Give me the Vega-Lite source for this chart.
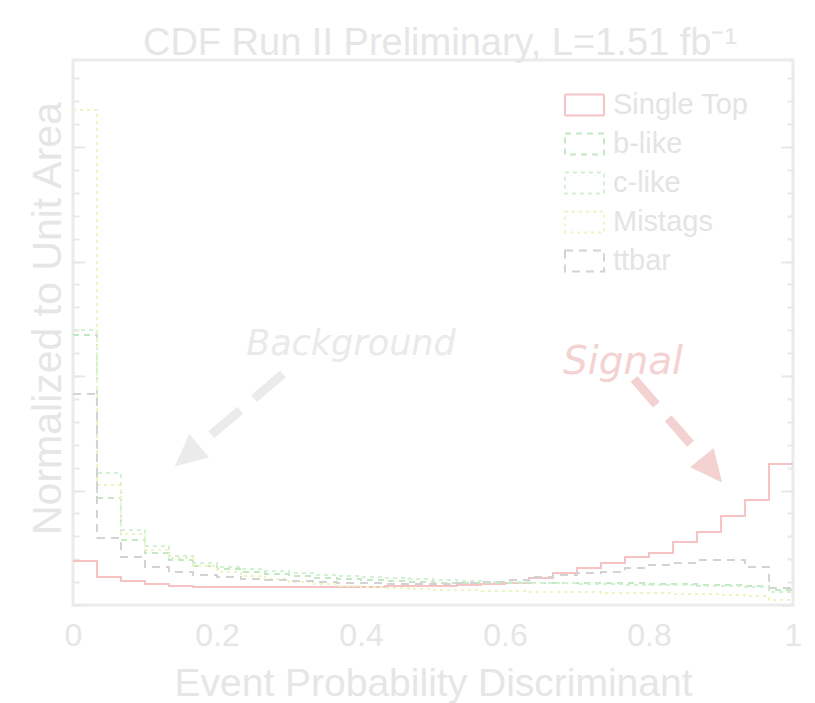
{
  "$schema": "https://vega.github.io/schema/vega-lite/v6.json",
  "width": 720,
  "height": 545,
  "autosize": {"type": "none"},
  "padding": {"left": 73, "top": 60, "right": 22, "bottom": 98},
  "background": "white",
  "title": {
    "text": "CDF Run II Preliminary, L=1.51 fb⁻¹",
    "font": "Liberation Sans",
    "fontSize": 38,
    "fontWeight": "normal",
    "color": "#e6e6e6",
    "anchor": "middle",
    "baseline": "alphabetic",
    "offset": 5,
    "dx": 7,
    "dy": 38
  },
  "datasets": {
    "hist": [
      {"s": "Single Top", "x": 0, "v": 0.0384}, {"s": "Single Top", "x": 0.0333, "v": 0.0245}, {"s": "Single Top", "x": 0.0667, "v": 0.0210}, {"s": "Single Top", "x": 0.1, "v": 0.0183}, {"s": "Single Top", "x": 0.1333, "v": 0.0166}, {"s": "Single Top", "x": 0.1667, "v": 0.0157}, {"s": "Single Top", "x": 0.2, "v": 0.0157}, {"s": "Single Top", "x": 0.2333, "v": 0.0157}, {"s": "Single Top", "x": 0.2667, "v": 0.0157}, {"s": "Single Top", "x": 0.3, "v": 0.0157}, {"s": "Single Top", "x": 0.3333, "v": 0.0157}, {"s": "Single Top", "x": 0.3667, "v": 0.0157}, {"s": "Single Top", "x": 0.4, "v": 0.0157}, {"s": "Single Top", "x": 0.4333, "v": 0.0166}, {"s": "Single Top", "x": 0.4667, "v": 0.0166}, {"s": "Single Top", "x": 0.5, "v": 0.0166}, {"s": "Single Top", "x": 0.5333, "v": 0.0175}, {"s": "Single Top", "x": 0.5667, "v": 0.0183}, {"s": "Single Top", "x": 0.6, "v": 0.0192}, {"s": "Single Top", "x": 0.6333, "v": 0.0236}, {"s": "Single Top", "x": 0.6667, "v": 0.0279}, {"s": "Single Top", "x": 0.7, "v": 0.0323}, {"s": "Single Top", "x": 0.7333, "v": 0.0367}, {"s": "Single Top", "x": 0.7667, "v": 0.0419}, {"s": "Single Top", "x": 0.8, "v": 0.0454}, {"s": "Single Top", "x": 0.8333, "v": 0.0550}, {"s": "Single Top", "x": 0.8667, "v": 0.0638}, {"s": "Single Top", "x": 0.9, "v": 0.0777}, {"s": "Single Top", "x": 0.9333, "v": 0.0917}, {"s": "Single Top", "x": 0.9667, "v": 0.1231}, {"s": "Single Top", "x": 1, "v": 0.1231},

      {"s": "b-like", "x": 0, "v": 0.2358}, {"s": "b-like", "x": 0.0333, "v": 0.0934}, {"s": "b-like", "x": 0.0667, "v": 0.0568}, {"s": "b-like", "x": 0.1, "v": 0.0454}, {"s": "b-like", "x": 0.1333, "v": 0.0393}, {"s": "b-like", "x": 0.1667, "v": 0.0341}, {"s": "b-like", "x": 0.2, "v": 0.0314}, {"s": "b-like", "x": 0.2333, "v": 0.0288}, {"s": "b-like", "x": 0.2667, "v": 0.0271}, {"s": "b-like", "x": 0.3, "v": 0.0253}, {"s": "b-like", "x": 0.3333, "v": 0.0236}, {"s": "b-like", "x": 0.3667, "v": 0.0227}, {"s": "b-like", "x": 0.4, "v": 0.0218}, {"s": "b-like", "x": 0.4333, "v": 0.0210}, {"s": "b-like", "x": 0.4667, "v": 0.0201}, {"s": "b-like", "x": 0.5, "v": 0.0192}, {"s": "b-like", "x": 0.5333, "v": 0.0192}, {"s": "b-like", "x": 0.5667, "v": 0.0192}, {"s": "b-like", "x": 0.6, "v": 0.0192}, {"s": "b-like", "x": 0.6333, "v": 0.0192}, {"s": "b-like", "x": 0.6667, "v": 0.0192}, {"s": "b-like", "x": 0.7, "v": 0.0192}, {"s": "b-like", "x": 0.7333, "v": 0.0192}, {"s": "b-like", "x": 0.7667, "v": 0.0192}, {"s": "b-like", "x": 0.8, "v": 0.0183}, {"s": "b-like", "x": 0.8333, "v": 0.0183}, {"s": "b-like", "x": 0.8667, "v": 0.0175}, {"s": "b-like", "x": 0.9, "v": 0.0175}, {"s": "b-like", "x": 0.9333, "v": 0.0166}, {"s": "b-like", "x": 0.9667, "v": 0.0131}, {"s": "b-like", "x": 1, "v": 0.0131},

      {"s": "c-like", "x": 0, "v": 0.2402}, {"s": "c-like", "x": 0.0333, "v": 0.1153}, {"s": "c-like", "x": 0.0667, "v": 0.0655}, {"s": "c-like", "x": 0.1, "v": 0.0515}, {"s": "c-like", "x": 0.1333, "v": 0.0428}, {"s": "c-like", "x": 0.1667, "v": 0.0367}, {"s": "c-like", "x": 0.2, "v": 0.0332}, {"s": "c-like", "x": 0.2333, "v": 0.0314}, {"s": "c-like", "x": 0.2667, "v": 0.0297}, {"s": "c-like", "x": 0.3, "v": 0.0279}, {"s": "c-like", "x": 0.3333, "v": 0.0262}, {"s": "c-like", "x": 0.3667, "v": 0.0253}, {"s": "c-like", "x": 0.4, "v": 0.0245}, {"s": "c-like", "x": 0.4333, "v": 0.0236}, {"s": "c-like", "x": 0.4667, "v": 0.0227}, {"s": "c-like", "x": 0.5, "v": 0.0218}, {"s": "c-like", "x": 0.5333, "v": 0.0210}, {"s": "c-like", "x": 0.5667, "v": 0.0201}, {"s": "c-like", "x": 0.6, "v": 0.0201}, {"s": "c-like", "x": 0.6333, "v": 0.0192}, {"s": "c-like", "x": 0.6667, "v": 0.0192}, {"s": "c-like", "x": 0.7, "v": 0.0183}, {"s": "c-like", "x": 0.7333, "v": 0.0183}, {"s": "c-like", "x": 0.7667, "v": 0.0175}, {"s": "c-like", "x": 0.8, "v": 0.0175}, {"s": "c-like", "x": 0.8333, "v": 0.0175}, {"s": "c-like", "x": 0.8667, "v": 0.0166}, {"s": "c-like", "x": 0.9, "v": 0.0166}, {"s": "c-like", "x": 0.9333, "v": 0.0157}, {"s": "c-like", "x": 0.9667, "v": 0.0114}, {"s": "c-like", "x": 1, "v": 0.0114},

      {"s": "Mistags", "x": 0, "v": 0.4323}, {"s": "Mistags", "x": 0.0333, "v": 0.1048}, {"s": "Mistags", "x": 0.0667, "v": 0.0620}, {"s": "Mistags", "x": 0.1, "v": 0.0480}, {"s": "Mistags", "x": 0.1333, "v": 0.0410}, {"s": "Mistags", "x": 0.1667, "v": 0.0341}, {"s": "Mistags", "x": 0.2, "v": 0.0288}, {"s": "Mistags", "x": 0.2333, "v": 0.0253}, {"s": "Mistags", "x": 0.2667, "v": 0.0227}, {"s": "Mistags", "x": 0.3, "v": 0.0201}, {"s": "Mistags", "x": 0.3333, "v": 0.0183}, {"s": "Mistags", "x": 0.3667, "v": 0.0166}, {"s": "Mistags", "x": 0.4, "v": 0.0157}, {"s": "Mistags", "x": 0.4333, "v": 0.0148}, {"s": "Mistags", "x": 0.4667, "v": 0.0140}, {"s": "Mistags", "x": 0.5, "v": 0.0131}, {"s": "Mistags", "x": 0.5333, "v": 0.0131}, {"s": "Mistags", "x": 0.5667, "v": 0.0122}, {"s": "Mistags", "x": 0.6, "v": 0.0122}, {"s": "Mistags", "x": 0.6333, "v": 0.0114}, {"s": "Mistags", "x": 0.6667, "v": 0.0114}, {"s": "Mistags", "x": 0.7, "v": 0.0114}, {"s": "Mistags", "x": 0.7333, "v": 0.0105}, {"s": "Mistags", "x": 0.7667, "v": 0.0105}, {"s": "Mistags", "x": 0.8, "v": 0.0105}, {"s": "Mistags", "x": 0.8333, "v": 0.0096}, {"s": "Mistags", "x": 0.8667, "v": 0.0096}, {"s": "Mistags", "x": 0.9, "v": 0.0087}, {"s": "Mistags", "x": 0.9333, "v": 0.0079}, {"s": "Mistags", "x": 0.9667, "v": 0.0044}, {"s": "Mistags", "x": 1, "v": 0.0044},

      {"s": "ttbar", "x": 0, "v": 0.1843}, {"s": "ttbar", "x": 0.0333, "v": 0.0585}, {"s": "ttbar", "x": 0.0667, "v": 0.0419}, {"s": "ttbar", "x": 0.1, "v": 0.0332}, {"s": "ttbar", "x": 0.1333, "v": 0.0288}, {"s": "ttbar", "x": 0.1667, "v": 0.0262}, {"s": "ttbar", "x": 0.2, "v": 0.0245}, {"s": "ttbar", "x": 0.2333, "v": 0.0227}, {"s": "ttbar", "x": 0.2667, "v": 0.0218}, {"s": "ttbar", "x": 0.3, "v": 0.0210}, {"s": "ttbar", "x": 0.3333, "v": 0.0201}, {"s": "ttbar", "x": 0.3667, "v": 0.0192}, {"s": "ttbar", "x": 0.4, "v": 0.0192}, {"s": "ttbar", "x": 0.4333, "v": 0.0183}, {"s": "ttbar", "x": 0.4667, "v": 0.0183}, {"s": "ttbar", "x": 0.5, "v": 0.0183}, {"s": "ttbar", "x": 0.5333, "v": 0.0192}, {"s": "ttbar", "x": 0.5667, "v": 0.0201}, {"s": "ttbar", "x": 0.6, "v": 0.0218}, {"s": "ttbar", "x": 0.6333, "v": 0.0245}, {"s": "ttbar", "x": 0.6667, "v": 0.0262}, {"s": "ttbar", "x": 0.7, "v": 0.0279}, {"s": "ttbar", "x": 0.7333, "v": 0.0288}, {"s": "ttbar", "x": 0.7667, "v": 0.0323}, {"s": "ttbar", "x": 0.8, "v": 0.0349}, {"s": "ttbar", "x": 0.8333, "v": 0.0367}, {"s": "ttbar", "x": 0.8667, "v": 0.0393}, {"s": "ttbar", "x": 0.9, "v": 0.0393}, {"s": "ttbar", "x": 0.9333, "v": 0.0332}, {"s": "ttbar", "x": 0.9667, "v": 0.0148}, {"s": "ttbar", "x": 1, "v": 0.0148}
    ],
    "arrows": [
      {"k": "Background", "x": 0.2917, "y": 0.2017, "x2": 0.175, "y2": 0.1397, "hx": 0.1583, "hy": 0.1301},
      {"k": "Signal", "x": 0.7792, "y": 0.1974, "x2": 0.8736, "y2": 0.1293, "hx": 0.8875, "hy": 0.1179}
    ],
    "notes": [
      {"k": "Background", "x": 0.386, "y": 0.2183},
      {"k": "Signal", "x": 0.7639, "y": 0.2018}
    ]
  },
  "resolve": {"axis": {"y": "independent"}},
  "layer": [
    {
      "data": {"name": "hist"},
      "mark": {"type": "line", "interpolate": "step-after", "strokeWidth": 2, "clip": true},
      "encoding": {
        "x": {
          "field": "x", "type": "quantitative",
          "scale": {"domain": [0, 1], "nice": false, "zero": false},
          "axis": {
            "title": "Event Probability Discriminant",
            "values": [0, 0.2, 0.4, 0.6, 0.8, 1],
            "labelExpr": "datum.value == 0 ? '0' : datum.value == 1 ? '1' : format(datum.value, '.1f')"
          }
        },
        "y": {
          "field": "v", "type": "quantitative",
          "scale": {"domain": [0, 0.476], "nice": false, "zero": true},
          "axis": {
            "orient": "left",
            "title": "Normalized to Unit Area",
            "values": [0, 0.02, 0.04, 0.06, 0.08, 0.1, 0.12, 0.14, 0.16, 0.18, 0.2, 0.22, 0.24, 0.26, 0.28, 0.3, 0.32, 0.34, 0.36, 0.38, 0.4, 0.42, 0.44, 0.46],
            "tickSize": -6,
            "titleFont": "Liberation Sans",
            "titleFontSize": 41,
            "titleFontWeight": "normal",
            "titleColor": "#e6e6e6",
            "titleAngle": -90,
            "titleBaseline": "alphabetic",
            "titleAlign": "center",
            "titleAnchor": null,
            "titleX": -13,
            "titleY": 258
          }
        },
        "color": {
          "field": "s", "type": "nominal",
          "scale": {
            "domain": ["Single Top", "b-like", "c-like", "Mistags", "ttbar"],
            "range": ["#f5c3c3", "#c3e8c3", "#d3f1d3", "#edf6c2", "#d3d3d3"]
          },
          "legend": {
            "title": null, "orient": "none", "legendX": 495.5, "legendY": 29,
            "symbolType": "M-1.3,-0.7H1.3V0.7H-1.3Z", "symbolSize": 900,
            "symbolStrokeWidth": 2, "symbolFillColor": "transparent",
            "labelFont": "Liberation Sans", "labelFontSize": 29, "labelColor": "#e4e4e4",
            "labelOffset": 12.5, "rowPadding": 8, "labelLimit": 400
          }
        },
        "strokeDash": {
          "field": "s", "type": "nominal",
          "scale": {
            "domain": ["Single Top", "b-like", "c-like", "Mistags", "ttbar"],
            "range": [[1, 0], [6, 5], [4, 4], [3, 4], [8, 6]]
          },
          "legend": {
            "title": null, "orient": "none", "legendX": 495.5, "legendY": 29,
            "symbolType": "M-1.3,-0.7H1.3V0.7H-1.3Z", "symbolSize": 900,
            "symbolStrokeWidth": 2, "symbolFillColor": "transparent",
            "labelFont": "Liberation Sans", "labelFontSize": 29, "labelColor": "#e4e4e4",
            "labelOffset": 12.5, "rowPadding": 8, "labelLimit": 400
          }
        }
      }
    },
    {
      "data": {"name": "arrows"},
      "transform": [{"filter": "datum.k == 'Background'"}],
      "mark": {"type": "rule", "color": "#ebebeb", "strokeWidth": 9, "strokeDash": [38, 18]},
      "encoding": {
        "x": {"field": "x", "type": "quantitative"},
        "y": {"field": "y", "type": "quantitative",
              "axis": {"orient": "right", "title": null,
                       "values": [0, 0.02, 0.04, 0.06, 0.08, 0.1, 0.12, 0.14, 0.16, 0.18, 0.2, 0.22, 0.24, 0.26, 0.28, 0.3, 0.32, 0.34, 0.36, 0.38, 0.4, 0.42, 0.44, 0.46],
                       "tickSize": -6}},
        "x2": {"field": "x2"},
        "y2": {"field": "y2"}
      }
    },
    {
      "data": {"name": "arrows"},
      "transform": [{"filter": "datum.k == 'Signal'"}],
      "mark": {"type": "rule", "color": "#f4d2d2", "strokeWidth": 9, "strokeDash": [34, 18]},
      "encoding": {
        "x": {"field": "x", "type": "quantitative"},
        "y": {"field": "y", "type": "quantitative",
              "axis": {"orient": "left", "title": null, "values": [0, 0.1, 0.2, 0.3, 0.4], "tickSize": -12}},
        "x2": {"field": "x2"},
        "y2": {"field": "y2"}
      }
    },
    {
      "data": {"name": "arrows"},
      "transform": [{"filter": "datum.k == 'Background'"}],
      "mark": {"type": "point", "shape": "M1,0L-1,-0.95L-1,0.95Z", "size": 1024, "filled": true, "opacity": 1, "color": "#ebebeb", "angle": 139.6},
      "encoding": {
        "x": {"field": "hx", "type": "quantitative"},
        "y": {"field": "hy", "type": "quantitative",
              "axis": {"orient": "right", "title": null, "values": [0, 0.1, 0.2, 0.3, 0.4], "tickSize": -12}}
      }
    },
    {
      "data": {"name": "arrows"},
      "transform": [{"filter": "datum.k == 'Signal'"}],
      "mark": {"type": "point", "shape": "M1,0L-1,-0.95L-1,0.95Z", "size": 1024, "filled": true, "opacity": 1, "color": "#f4d2d2", "angle": 50.7},
      "encoding": {
        "x": {"field": "hx", "type": "quantitative"},
        "y": {"field": "hy", "type": "quantitative", "axis": null}
      }
    },
    {
      "data": {"name": "notes"},
      "transform": [{"filter": "datum.k == 'Background'"}],
      "mark": {"type": "text", "font": "DejaVu Sans", "fontStyle": "italic", "fontSize": 35, "color": "#eaeaea", "align": "center", "baseline": "alphabetic"},
      "encoding": {
        "x": {"field": "x", "type": "quantitative"},
        "y": {"field": "y", "type": "quantitative", "axis": null},
        "text": {"field": "k"}
      }
    },
    {
      "data": {"name": "notes"},
      "transform": [{"filter": "datum.k == 'Signal'"}],
      "mark": {"type": "text", "font": "DejaVu Sans", "fontStyle": "italic", "fontSize": 39, "color": "#f4d2d2", "align": "center", "baseline": "alphabetic"},
      "encoding": {
        "x": {"field": "x", "type": "quantitative"},
        "y": {"field": "y", "type": "quantitative", "axis": null},
        "text": {"field": "k"}
      }
    }
  ],
  "config": {
    "view": {"stroke": "#ebebeb", "strokeWidth": 3},
    "axis": {
      "grid": false,
      "domain": false,
      "labelFont": "Liberation Sans",
      "titleFont": "Liberation Sans",
      "tickColor": "#e8e8e8",
      "tickWidth": 2
    },
    "axisY": {"labels": false},
    "axisX": {
      "ticks": false,
      "labels": true,
      "labelFontSize": 32,
      "labelColor": "#e6e6e6",
      "labelBaseline": "alphabetic",
      "labelPadding": 40,
      "labelFlush": false,
      "titleFontSize": 39,
      "titleFontWeight": "normal",
      "titleColor": "#e6e6e6",
      "titleBaseline": "alphabetic",
      "titleY": 90
    }
  }
}
